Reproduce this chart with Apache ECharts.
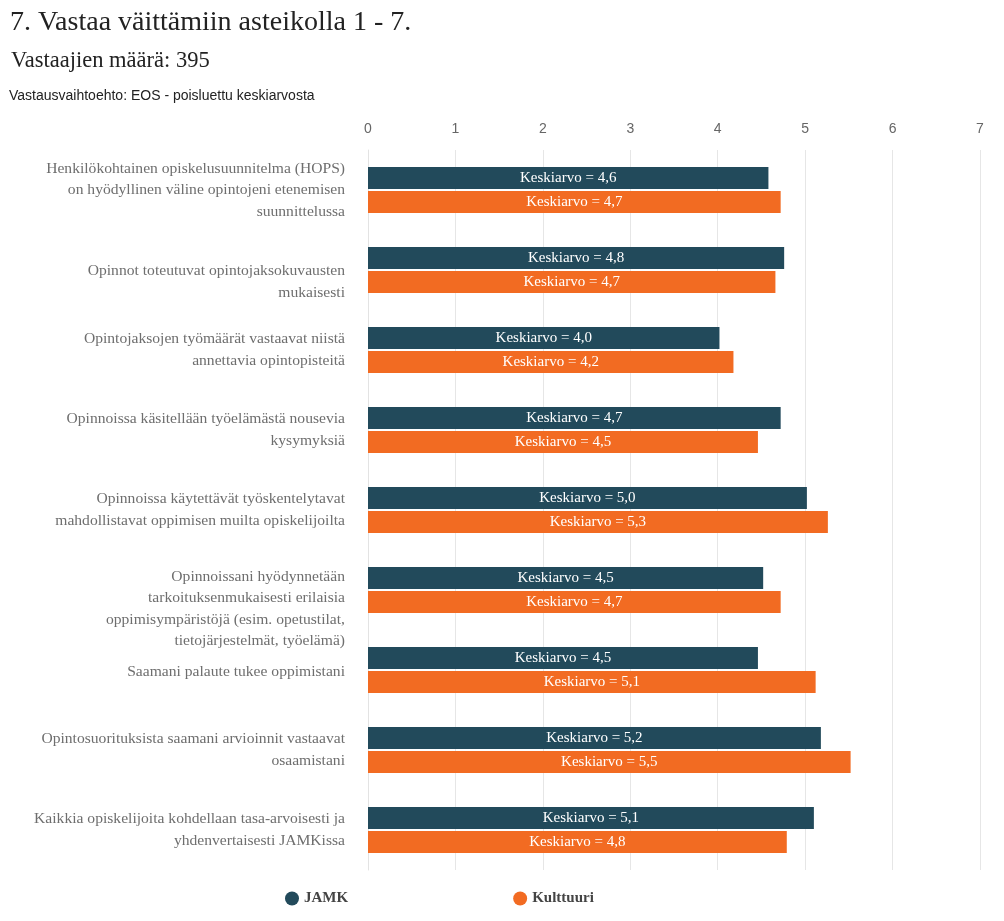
<!DOCTYPE html>
<html>
<head>
<meta charset="utf-8">
<script src="https://cdn.jsdelivr.net/npm/echarts@6/dist/echarts.min.js"></script>
<style>
  html, body { margin: 0; padding: 0; background: #fff; }
  #Chart { width: 1004px; height: 921px; }
</style>
</head>
<body>
<div id="Chart"></div>
<script>
// väittämät (ylhäältä alas)
var categories = [
    'Henkilökohtainen opiskelusuunnitelma (HOPS)\non hyödyllinen väline opintojeni etenemisen\nsuunnittelussa',
    'Opinnot toteutuvat opintojaksokuvausten\nmukaisesti',
    'Opintojaksojen työmäärät vastaavat niistä\nannettavia opintopisteitä',
    'Opinnoissa käsitellään työelämästä nousevia\nkysymyksiä',
    'Opinnoissa käytettävät työskentelytavat\nmahdollistavat oppimisen muilta opiskelijoilta',
    'Opinnoissani hyödynnetään\ntarkoituksenmukaisesti erilaisia\noppimisympäristöjä (esim. opetustilat,\ntietojärjestelmät, työelämä)',
    'Saamani palaute tukee oppimistani',
    'Opintosuorituksista saamani arvioinnit vastaavat\nosaamistani',
    'Kaikkia opiskelijoita kohdellaan tasa-arvoisesti ja\nyhdenvertaisesti JAMKissa'
];
var seriesNames = ['JAMK', 'Kulttuuri'];
var jamk = [4.58, 4.76, 4.02, 4.72, 5.02, 4.52, 4.46, 5.18, 5.10];
var kulttuuri = [4.72, 4.66, 4.18, 4.46, 5.26, 4.72, 5.12, 5.52, 4.79];
var axisTicks = [0, 1, 2, 3, 4, 5, 6, 7];

var colors = ['#224a5b', '#f26b22'];

var Chart = echarts.init(document.getElementById('Chart'));

function barLabel(p) {
    return 'Keskiarvo = ' + p.value.toFixed(1).replace('.', ',');
}

// osa selitteistä on alkuperäisessä hieman alempana
function catLabel(value, index) {
    if (index === 1) return '{g1| }\n' + value;
    if (index === 5) return '{g5| }\n' + value;
    if (index === 6) return '{g6| }\n' + value;
    return value;
}

function makeSeries(name, data, color) {
    return {
        name: name,
        type: 'bar',
        data: data,
        barWidth: 22,
        barGap: '10%',
        itemStyle: { color: color },
        label: {
            show: true,
            position: 'inside',
            formatter: barLabel,
            color: '#fff',
            fontFamily: 'Liberation Serif, serif',
            fontSize: 15
        }
    };
}

var option = {
    animation: false,
    color: colors,
    title: [
        {
            text: '7. Vastaa väittämiin asteikolla 1 - 7.',
            left: 5, top: 4,
            textStyle: { fontFamily: 'Liberation Serif, serif', fontSize: 28, fontWeight: 'normal', color: '#222' }
        },
        {
            text: 'Vastaajien määrä: 395',
            left: 6, top: 45,
            textStyle: { fontFamily: 'Liberation Serif, serif', fontSize: 22.5, fontWeight: 'normal', color: '#222' }
        },
        {
            text: 'Vastausvaihtoehto: EOS - poisluettu keskiarvosta',
            left: 4, top: 84,
            textStyle: { fontFamily: 'Liberation Sans, Arial, sans-serif', fontSize: 14, fontWeight: 'normal', color: '#222' }
        }
    ],
    legend: {
        data: seriesNames,
        left: 280,
        top: 886,
        icon: 'circle',
        itemWidth: 14,
        itemHeight: 14,
        itemGap: 165,
        textStyle: { fontFamily: 'Liberation Serif, serif', fontSize: 15, fontWeight: 'bold', color: '#444' }
    },
    grid: {
        left: 368,
        right: 24,
        top: 150,
        bottom: 51,
        containLabel: false
    },
    xAxis: {
        type: 'value',
        position: 'top',
        min: axisTicks[0],
        max: axisTicks[axisTicks.length - 1],
        interval: 1,
        axisLine: { show: false },
        axisTick: { show: false },
        axisLabel: {
            margin: 14,
            color: '#666',
            fontFamily: 'Liberation Sans, Arial, sans-serif',
            fontSize: 14
        },
        splitLine: { show: true, lineStyle: { color: '#e6e6e6', width: 1 } }
    },
    yAxis: {
        type: 'category',
        data: categories,
        inverse: true,
        axisLine: { show: true, lineStyle: { color: '#e3e3e3' } },
        axisTick: { show: false },
        axisLabel: {
            margin: 23,
            color: '#6e6e6e',
            fontFamily: 'Liberation Serif, serif',
            fontSize: 15.6,
            lineHeight: 21.5,
            align: 'right',
            formatter: catLabel,
            rich: {
                g1: { fontSize: 1, lineHeight: 24, height: 24 },
                g5: { fontSize: 1, lineHeight: 38, height: 38 },
                g6: { fontSize: 1, lineHeight: 4, height: 4 }
            }
        }
    },
    series: [
        makeSeries(seriesNames[0], jamk, colors[0]),
        makeSeries(seriesNames[1], kulttuuri, colors[1])
    ]
};

Chart.setOption(option);

window.addEventListener('resize', function () {
    Chart.resize();
});
</script>
</body>
</html>
